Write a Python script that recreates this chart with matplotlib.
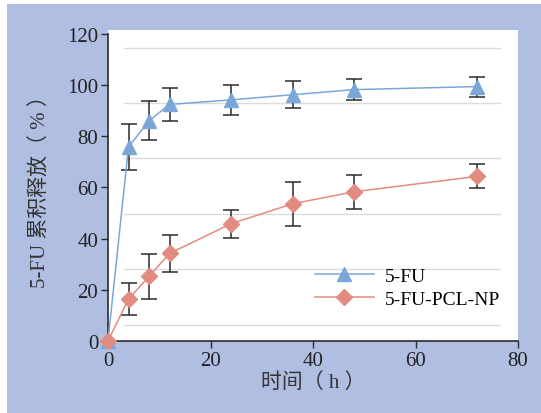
import numpy as np
import matplotlib
matplotlib.use("Agg")
import matplotlib.pyplot as plt
from matplotlib.patches import Rectangle

plt.rcParams['font.family'] = ['Liberation Serif', 'Noto Sans CJK SC']

# sampling times (h)
hours = [0, 4, 8, 12, 24, 36, 48, 72]
# cumulative release (%)
fu_mean = [0, 75.8, 86.0, 92.4, 94.2, 96.2, 98.2, 99.4]
fu_err = [0, 9.0, 7.6, 6.6, 5.9, 5.2, 4.2, 3.9]
np_mean = [0, 16.4, 25.2, 34.2, 45.8, 53.6, 58.3, 64.3]
np_err = [0, 6.4, 8.6, 7.4, 5.4, 8.5, 6.6, 4.7]
series_labels = ['5-FU', '5-FU-PCL-NP']
# light background guide lines (as drawn in the original, not on the ticks)
guide_levels = [6.2, 28.0, 49.6, 71.3, 93.1, 114.5]

bg = '#b0bfe1'
blue = '#7ba7d8'
red = '#e28b80'
dark = '#2b2b2b'

fig = plt.figure(figsize=(5.41, 4.14), dpi=100)
fig.patch.set_facecolor('white')
fig.patches.append(Rectangle((7 / 541, 0.0), 1.0, 1 - 5 / 414,
                             transform=fig.transFigure, facecolor=bg,
                             edgecolor='none', zorder=-5))

ax = fig.add_axes([108 / 541, 1 - 342 / 414, (518 - 108) / 541, (342 - 31) / 414])
ax.set_facecolor('white')

for g in guide_levels:
    ax.axhline(g, xmin=0.04, xmax=0.955, color='#dcdcdc', lw=1.0, zorder=0)

ax.errorbar(hours[1:], fu_mean[1:], yerr=fu_err[1:], fmt='none', ecolor=dark,
            elinewidth=1.1, capsize=6, capthick=1.1, zorder=2)
ax.errorbar(hours[1:], np_mean[1:], yerr=np_err[1:], fmt='none', ecolor=dark,
            elinewidth=1.1, capsize=6, capthick=1.1, zorder=2)
ax.plot(hours, fu_mean, color=blue, lw=1.1, marker='^', ms=10,
        markeredgecolor=blue, label=series_labels[0], zorder=3, clip_on=False)
ax.plot(hours, np_mean, color=red, lw=1.1, marker='D', ms=8,
        markeredgecolor=red, label=series_labels[1], zorder=3, clip_on=False)

ax.set_xlim(0, 80)
ax.set_ylim(0, 121.5)
ax.set_xticks([0, 20, 40, 60, 80])
ax.set_yticks([0, 20, 40, 60, 80, 100, 120])
ax.tick_params(direction='out', length=5, width=1.0, color=dark,
               labelsize=15, labelcolor='#222222', pad=2)
for s in ['top', 'right']:
    ax.spines[s].set_visible(False)
for s in ['left', 'bottom']:
    ax.spines[s].set_color(dark)
    ax.spines[s].set_linewidth(1.2)
ax.spines['left'].set_bounds(0, 120)

ax.set_xlabel('时间（ h ）', fontsize=15, color='#333333', labelpad=2)
ax.set_ylabel('5-FU 累积释放（ % ）', fontsize=15, color='#333333', labelpad=12)

leg = ax.legend(loc='lower right', bbox_to_anchor=(1.0, 0.05), frameon=False,
                fontsize=14, handlelength=3.0, handletextpad=0.6,
                labelspacing=0.3)

fig.savefig('out.png', dpi=100, facecolor=fig.get_facecolor())
